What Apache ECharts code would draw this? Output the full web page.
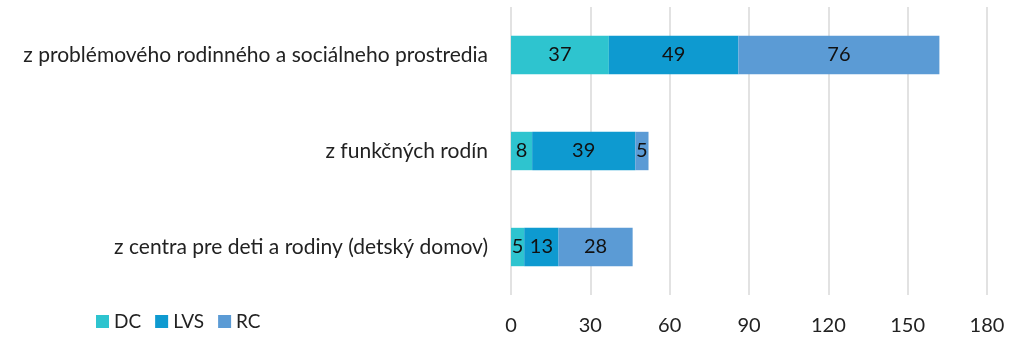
<!DOCTYPE html>
<html><head><meta charset="utf-8">
<script src="https://cdn.jsdelivr.net/npm/echarts@6/dist/echarts.min.js"></script>
<style>html,body{margin:0;padding:0;background:#fff}#c{width:1024px;height:341px}</style>
</head><body><div id="c"></div>
<script>
const categories = ["z problémového rodinného a sociálneho prostredia", "z funkčných rodín", "z centra pre deti a rodiny (detský domov)"];
const seriesNames = ["DC", "LVS", "RC"];
const dcValues = [37, 8, 5];
const lvsValues = [49, 39, 13];
const rcValues = [76, 5, 28];
const colors = ["#2EC4CF", "#0E9AD0", "#5B9BD5"];
const FONT = "Lato";
const chart = echarts.init(document.getElementById('c'));
const values = [dcValues, lvsValues, rcValues];
chart.setOption({
  animation: false,
  textStyle: {fontFamily: FONT},
  grid: {left: 511, right: 37, top: 7, bottom: 46, containLabel: false},
  legend: {
    left: 91, top: 307, itemWidth: 13, itemHeight: 13, itemGap: 14,
    icon: 'rect',
    textStyle: {fontFamily: FONT, fontSize: 19, color: '#222'},
    data: seriesNames
  },
  xAxis: {
    type: 'value', min: 0, max: 180, interval: 30,
    axisLine: {show: false}, axisTick: {show: false},
    splitLine: {lineStyle: {color: '#d9d9d9', width: 1.5}},
    axisLabel: {fontFamily: FONT, fontSize: 20, color: '#222', margin: 21}
  },
  yAxis: {
    type: 'category', inverse: true, data: categories,
    axisLine: {show: false}, axisTick: {show: false},
    axisLabel: {fontFamily: FONT, fontSize: 21, color: '#222', margin: 23}
  },
  series: seriesNames.map((n, i) => ({
    name: n, type: 'bar', stack: 'total', barWidth: '40%',
    itemStyle: {color: colors[i]},
    label: {show: true, position: 'inside', color: '#111', fontFamily: FONT, fontSize: 20},
    data: values[i]
  }))
});
</script></body></html>
